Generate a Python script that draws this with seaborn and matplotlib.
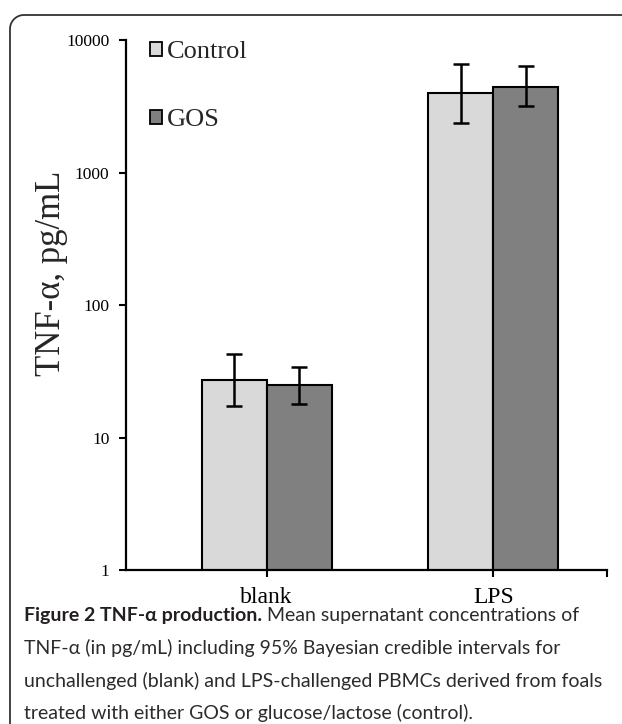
import matplotlib
matplotlib.use("Agg")
import matplotlib.pyplot as plt
from matplotlib.patches import Patch, PathPatch
from matplotlib.path import Path
import seaborn as sns
import pandas as pd
import numpy as np

categories = ["blank", "LPS"]
groups = ["Control", "GOS"]
control_mean = [27.2, 4000]
control_lo = [17.3, 2350]
control_hi = [43, 6620]
gos_mean = [24.9, 4440]
gos_lo = [17.9, 3180]
gos_hi = [34, 6330]
yticks = [1, 10, 100, 1000, 10000]
ytick_labels = ["1", "10", "100", "1000", "10000"]
colors = {"Control": "#d9d9d9", "GOS": "#808080"}

df = pd.DataFrame({
    "category": categories * 2,
    "group": ["Control"] * 2 + ["GOS"] * 2,
    "value": control_mean + gos_mean,
    "lo": control_lo + gos_lo,
    "hi": control_hi + gos_hi,
})

sns.set_style("white")
plt.rcParams["font.family"] = ["Liberation Serif", "DejaVu Serif"]

W, H = 622, 724
fig = plt.figure(figsize=(W / 100, H / 100), dpi=100)

# frame: left and top border with rounded top-left corner
rad = 14.0
ang = np.linspace(np.pi, np.pi / 2, 20)
cx, cy = 10 + rad, 15 + rad
arc_pts = [(cx + rad * np.cos(a), cy - rad * np.sin(a)) for a in ang]
pts = [(10, H + 20)] + arc_pts + [(W + 20, 15)]
verts = [(x / W, 1 - y / H) for x, y in pts]
frame = PathPatch(Path(verts), transform=fig.transFigure, fill=False,
                  edgecolor="#333333", linewidth=1.3)
fig.patches.append(frame)

ax = fig.add_axes([126 / W, 1 - 570 / H, (607 - 126) / W, (570 - 40) / H])
sns.barplot(data=df, x="category", y="value", hue="group", order=categories,
            hue_order=groups, palette=colors, errorbar=None, width=0.574,
            edgecolor="black", linewidth=1.5, ax=ax, legend=False)
ax.set_yscale("log")
ax.set_ylim(1, 10000)
ax.set_xlim(-0.621, 1.502)

for cont, g in zip(ax.containers, groups):
    sub = df[df["group"] == g].set_index("category").loc[categories]
    xs = [p.get_x() + p.get_width() / 2 for p in cont.patches]
    ys = sub["value"].values
    yerr = np.vstack([ys - sub["lo"].values, sub["hi"].values - ys])
    ax.errorbar(xs, ys, yerr=yerr, fmt="none", ecolor="black",
                elinewidth=1.8, capsize=5.5, capthick=1.8, zorder=5)

ax.set_yticks(yticks)
ax.set_yticklabels(ytick_labels)
ax.minorticks_off()
ax.set_xticks([0, 1, 1.5])
ax.set_xticklabels(["blank", "LPS", ""])
ax.tick_params(axis="y", labelsize=12.5, length=5, width=1.5, direction="out",
               left=True, pad=7, colors="black")
ax.tick_params(axis="x", labelsize=17, length=5, width=1.5, direction="out",
               bottom=True, pad=7, colors="black")
for s in ["top", "right"]:
    ax.spines[s].set_visible(False)
for s in ["left", "bottom"]:
    ax.spines[s].set_linewidth(1.6)
    ax.spines[s].set_color("black")
ax.set_xlabel("")
ax.set_ylabel("")
fig.text(52 / W, 1 - 273 / H, "TNF-α, pg/mL", fontsize=25, rotation=90,
         ha="center", va="center")

handles = [Patch(facecolor=colors[g], edgecolor="black", linewidth=1.3) for g in groups]
ax.legend(handles, groups, loc="upper left", bbox_to_anchor=(0.028, 1.018),
          frameon=False, fontsize=19, labelspacing=1.75, handlelength=0.45,
          handleheight=0.45, handletextpad=0.2, borderaxespad=0)

# caption
cap_font = ["Lato", "DejaVu Sans"]
fig.canvas.draw()
r = fig.canvas.get_renderer()
x0 = 24 / W
y1 = 1 - 615 / H
t_bold = fig.text(x0, y1, "Figure 2 TNF-α production.", fontsize=14,
                  fontweight="bold", family=cap_font, color="#231f20",
                  va="center", ha="left")
bb = t_bold.get_window_extent(renderer=r)
fig.text(bb.x1 / W + 5 / W, y1, "Mean supernatant concentrations of",
         fontsize=14, family=cap_font, color="#2b2b2b", va="center", ha="left")
lines = ["TNF-α (in pg/mL) including 95% Bayesian credible intervals for",
         "unchallenged (blank) and LPS-challenged PBMCs derived from foals",
         "treated with either GOS or glucose/lactose (control)."]
for i, ln in enumerate(lines):
    fig.text(x0, 1 - (648 + 32.5 * i) / H, ln, fontsize=14, family=cap_font,
             color="#2b2b2b", va="center", ha="left")

fig.savefig("out.png", dpi=100)
